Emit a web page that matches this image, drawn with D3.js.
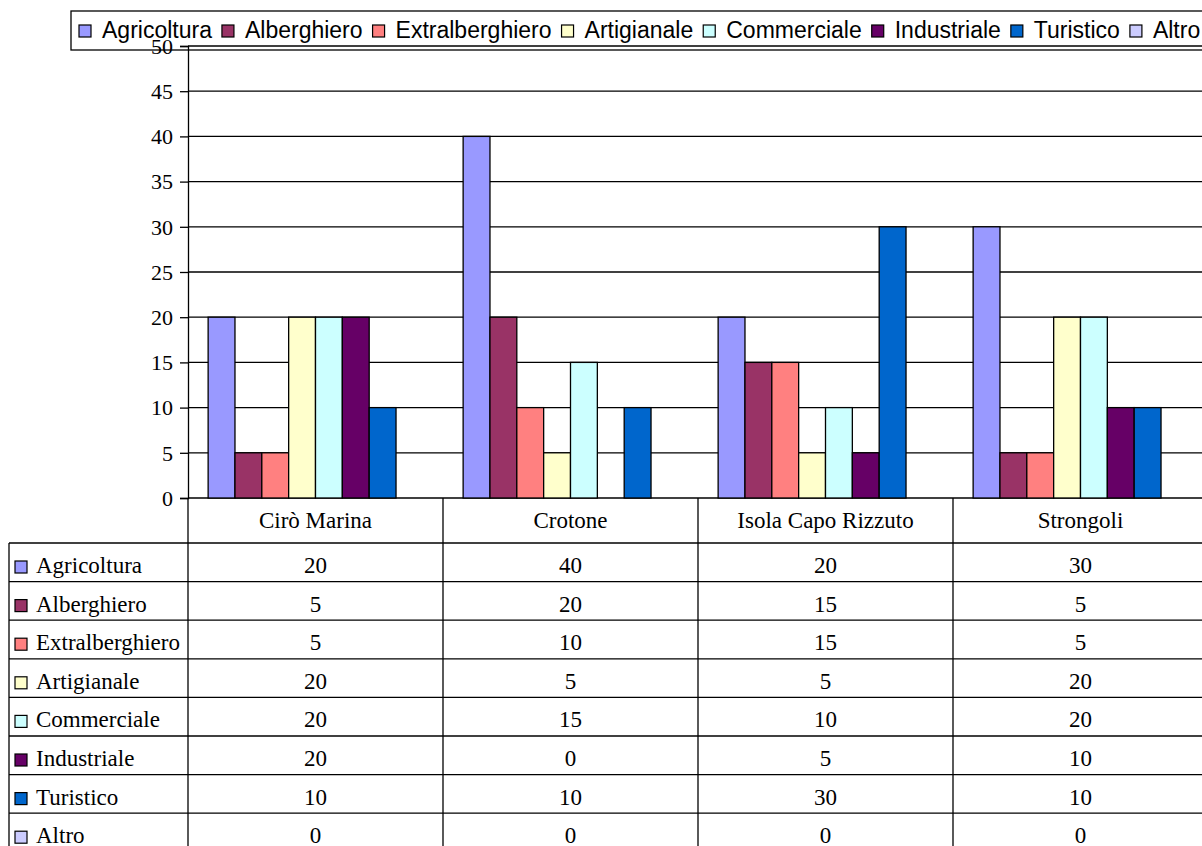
<!DOCTYPE html>
<html lang="it">
<head>
  <meta charset="UTF-8">
  <title>Settori</title>
  <style>
    body { margin: 0; background: #fff; overflow: hidden; }
    svg { display: block; }
    .serif { font-family: "Liberation Serif", "Times New Roman", serif; fill: #000; }
    .sans { font-family: "Liberation Sans", Arial, sans-serif; fill: #000; }
  </style>
</head>
<body>
  <svg id="chart" width="1202" height="846"></svg>
  <script src="https://cdn.jsdelivr.net/npm/d3@7/dist/d3.min.js"></script>
  <script>
    // data
    const comuni = ['Cirò Marina', 'Crotone', 'Isola Capo Rizzuto', 'Strongoli']
    const settori = ['Agricoltura', 'Alberghiero', 'Extralberghiero', 'Artigianale', 'Commerciale', 'Industriale', 'Turistico', 'Altro']
    const agricoltura = [20, 40, 20, 30]
    const alberghiero = [5, 20, 15, 5]
    const extralberghiero = [5, 10, 15, 5]
    const artigianale = [20, 5, 5, 20]
    const commerciale = [20, 15, 10, 20]
    const industriale = [20, 0, 5, 10]
    const turistico = [10, 10, 30, 10]
    const altro = [0, 0, 0, 0]
    const yTicks = [0, 5, 10, 15, 20, 25, 30, 35, 40, 45, 50]

    const values = [agricoltura, alberghiero, extralberghiero, artigianale, commerciale, industriale, turistico, altro]
    const colori = ['#9999FF', '#993366', '#FF8080', '#FFFFCC', '#CCFFFF', '#660066', '#0066CC', '#CCCCFF']

    const svg = d3.select('#chart')

    const plotL = 188, plotR = 1208, plotT = 46, plotB = 498
    const x = d3.scaleBand().domain(comuni).range([plotL, plotR])
    const groupW = x.bandwidth()
    const barW = groupW / 9.5
    const xs = d3.scaleBand().domain(settori).range([barW * 0.75, groupW - barW * 0.75])
    const y = d3.scaleLinear().domain([0, 50]).range([plotB, plotT])
    const color = d3.scaleOrdinal().domain(settori).range(colori)

    // gridlines
    svg.append('g')
      .selectAll('line')
      .data(yTicks)
      .enter()
      .append('line')
      .attr('x1', plotL).attr('x2', plotR)
      .attr('y1', d => y(d)).attr('y2', d => y(d))
      .attr('stroke', '#000').attr('stroke-width', 1.3)

    // bars
    const groups = svg.append('g')
      .selectAll('g')
      .data(comuni)
      .enter()
      .append('g')
      .attr('transform', d => `translate(${x(d)},0)`)

    groups.selectAll('rect')
      .data((c, ci) => settori.map((s, si) => ({ s: s, v: values[si][ci] })).filter(d => d.v > 0))
      .enter()
      .append('rect')
      .attr('x', d => xs(d.s))
      .attr('width', xs.bandwidth())
      .attr('y', d => y(d.v))
      .attr('height', d => y(0) - y(d.v))
      .attr('fill', d => color(d.s))
      .attr('stroke', '#000')
      .attr('stroke-width', 1.3)

    // legend (drawn before axis so the 50 label sits over it)
    const legend = svg.append('g')
    legend.append('rect')
      .attr('x', 71).attr('y', 11)
      .attr('width', 1160).attr('height', 39)
      .attr('fill', 'none').attr('stroke', '#000').attr('stroke-width', 1.3)
    let lx = 79
    settori.forEach(s => {
      legend.append('rect')
        .attr('x', lx).attr('y', 25)
        .attr('width', 12).attr('height', 12)
        .attr('fill', color(s)).attr('stroke', '#000').attr('stroke-width', 1.2)
      const t = legend.append('text')
        .attr('class', 'sans')
        .attr('x', lx + 23).attr('y', 38)
        .style('font-size', '23px')
        .text(s)
      lx += 23 + t.node().getComputedTextLength() + 10
    })

    // y axis
    const yAxis = d3.axisLeft(y).tickValues(yTicks).tickSize(8).tickPadding(7)
    const ya = svg.append('g')
      .attr('transform', `translate(${plotL},0)`)
      .call(yAxis)
    ya.select('.domain').attr('stroke', '#000').attr('stroke-width', 1.3)
    ya.selectAll('.tick line').attr('stroke', '#000').attr('stroke-width', 1.3)
    ya.selectAll('.tick text')
      .attr('class', 'serif')
      .attr('dy', '0.33em')
      .style('font-size', '22px')

    // data table
    const headerH = 45
    const rowH = 38.6
    const tableLeft = 9
    const rowTop = plotB + headerH
    const table = svg.append('g')

    // header labels
    table.selectAll('.cat')
      .data(comuni)
      .enter()
      .append('text')
      .attr('class', 'serif')
      .attr('x', d => x(d) + groupW / 2)
      .attr('y', plotB + 30)
      .attr('text-anchor', 'middle')
      .style('font-size', '23px')
      .text(d => d)

    // horizontal lines
    const hl = d3.range(settori.length + 1).map(i => rowTop + i * rowH)
    table.selectAll('.hl')
      .data(hl)
      .enter()
      .append('line')
      .attr('x1', tableLeft).attr('x2', plotR)
      .attr('y1', d => d).attr('y2', d => d)
      .attr('stroke', '#000').attr('stroke-width', 1.3)

    // vertical lines
    const tableBottom = rowTop + settori.length * rowH
    table.append('line')
      .attr('x1', tableLeft).attr('x2', tableLeft)
      .attr('y1', rowTop).attr('y2', tableBottom)
      .attr('stroke', '#000').attr('stroke-width', 1.3)
    table.selectAll('.vl')
      .data(comuni.map(c => x(c)).concat([plotR]))
      .enter()
      .append('line')
      .attr('x1', d => d).attr('x2', d => d)
      .attr('y1', plotB).attr('y2', tableBottom)
      .attr('stroke', '#000').attr('stroke-width', 1.3)

    // row labels + values
    settori.forEach((s, si) => {
      const ry = rowTop + si * rowH
      table.append('rect')
        .attr('x', 15).attr('y', ry + 18)
        .attr('width', 12).attr('height', 12)
        .attr('fill', color(s)).attr('stroke', '#000').attr('stroke-width', 1.2)
      table.append('text')
        .attr('class', 'serif')
        .attr('x', 36).attr('y', ry + 30)
        .style('font-size', '23px')
        .text(s)
      comuni.forEach((c, ci) => {
        table.append('text')
          .attr('class', 'serif')
          .attr('x', x(c) + groupW / 2)
          .attr('y', ry + 30)
          .attr('text-anchor', 'middle')
          .style('font-size', '23px')
          .text(values[si][ci])
      })
    })
  </script>
</body>
</html>
